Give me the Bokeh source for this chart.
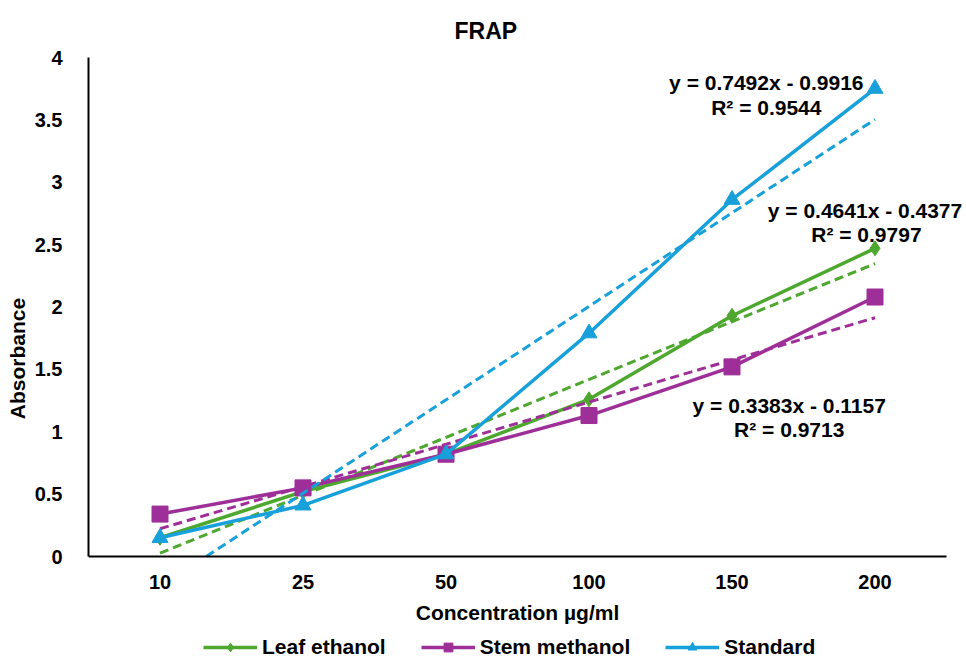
import numpy as np
from bokeh.plotting import figure
from bokeh.models import (Range1d, FixedTicker, Legend, LegendItem, Label, ColumnDataSource)
from bokeh.embed import file_html
from bokeh.resources import INLINE

# ---- data ----
categories = ["10", "25", "50", "100", "150", "200"]
leaf_ethanol = [0.15, 0.52, 0.82, 1.26, 1.93, 2.47]
stem_methanol = [0.34, 0.55, 0.82, 1.13, 1.52, 2.08]
standard = [0.15, 0.41, 0.82, 1.79, 2.86, 3.75]

series_names = ["Leaf ethanol", "Stem methanol", "Standard"]
trend_slopes = [0.4641, 0.3383, 0.7492]
trend_intercepts = [-0.4377, -0.1157, -0.9916]
trend_r2 = [0.9797, 0.9713, 0.9544]

y_ticks = [0, 0.5, 1, 1.5, 2, 2.5, 3, 3.5, 4]
y_tick_labels = ["0", "0.5", "1", "1.5", "2", "2.5", "3", "3.5", "4"]

# ---- style / layout ----
colors = ["#4EA72E", "#9E2F98", "#17A0DA"]
markers = ["diamond", "square", "triangle"]
marker_sizes = [15, 16, 16]
FONT = "Liberation Sans"

W, H = 966, 659
LEFT, TOP = 88, 57
AXIS_BOTTOM_PX = 556          # pixel row of y = 0
BAND_PX = 143                 # width of one category band
PX_PER_UNIT = (AXIS_BOTTOM_PX - TOP) / 4.0

n = len(categories)
x_idx = np.arange(1, n + 1)
x_end = 0.5 + (W - LEFT) / BAND_PX
y_start = -(H - AXIS_BOTTOM_PX) / PX_PER_UNIT

p = figure(frame_width=W - LEFT, frame_height=H - TOP, output_backend="svg",
           toolbar_location=None,
           x_range=Range1d(0.5, x_end), y_range=Range1d(y_start, 4),
           min_border_left=LEFT, min_border_right=0, min_border_top=TOP,
           min_border_bottom=0)

p.title.text = "FRAP"
p.title.align = "left"
p.title.text_font = FONT
p.title.text_font_size = "23px"
p.title.text_font_style = "bold"
p.title.text_color = "black"
p.title.offset = 366
p.title.standoff = 28

p.outline_line_color = None
p.xgrid.visible = False
p.ygrid.visible = False
p.background_fill_color = "white"
p.border_fill_color = "white"

# axes
xa = p.xaxis[0]
xa.fixed_location = 0
xa.bounds = (0.5, n + 0.5)
xa.ticker = FixedTicker(ticks=list(x_idx))
xa.major_label_overrides = {int(i): c for i, c in zip(x_idx, categories)}
xa.axis_label = "Concentration µg/ml"
ya = p.yaxis[0]
ya.bounds = (0, 4)
ya.ticker = FixedTicker(ticks=y_ticks)
ya.major_label_overrides = {t: l for t, l in zip(y_ticks, y_tick_labels)}
ya.axis_label = "Absorbance"
for ax in (xa, ya):
    ax.axis_line_color = "black"
    ax.axis_line_width = 2
    ax.major_tick_line_color = None
    ax.minor_tick_line_color = None
    ax.major_label_text_font = FONT
    ax.major_label_text_font_style = "bold"
    ax.major_label_text_font_size = "20px"
    ax.major_label_text_color = "black"
    ax.axis_label_text_font = FONT
    ax.axis_label_text_font_style = "bold"
    ax.axis_label_text_font_size = "21px"
    ax.axis_label_text_color = "black"
xa.major_label_standoff = 12
xa.axis_label_standoff = 9
ya.major_label_standoff = 20
ya.axis_label_standoff = 3

all_series = [leaf_ethanol, stem_methanol, standard]
items = []
for name, vals, col, mk, ms, m, b in zip(series_names, all_series, colors, markers,
                                          marker_sizes, trend_slopes, trend_intercepts):
    # trendline (dashed) from the displayed coefficients, clipped at y = 0
    tx = np.array([max(1.0, -b / m), float(n)])
    ty = m * tx + b
    p.line(tx, ty, line_color=col, line_width=3, line_dash="9 5")
    src = ColumnDataSource(dict(x=x_idx, y=vals))
    lr = p.line("x", "y", source=src, line_color=col, line_width=3.5)
    sr = p.scatter("x", "y", source=src, marker=mk, size=ms, fill_color=col,
                   line_color=col)
    items.append(LegendItem(label=name, renderers=[lr, sr]))

legend = Legend(items=items, orientation="horizontal", location=(115, 0),
                label_text_font=FONT, label_text_font_style="bold",
                label_text_font_size="21px", label_text_color="black",
                glyph_width=54, glyph_height=22, label_standoff=5, spacing=35,
                border_line_color=None, background_fill_alpha=0,
                padding=0, margin=0)
p.add_layout(legend, "center")

# trendline equations, placed in data coordinates
eq_pos = [  # ((x, y) of equation, (x, y) of R2)
    ((5.93, 2.77), (5.94, 2.58)),
    ((5.40, 1.21), (5.40, 1.02)),
    ((5.24, 3.80), (5.24, 3.60)),
]
for (e, r), m, b, r2 in zip(eq_pos, trend_slopes, trend_intercepts, trend_r2):
    sign = "-" if b < 0 else "+"
    txt = f"y = {m:.4f}x {sign} {abs(b):.4f}"
    for (dx, dy), t in ((e, txt), (r, f"R² = {r2:.4f}")):
        p.add_layout(Label(x=dx, y=dy, text=t,
                           text_font=FONT, text_font_style="bold",
                           text_font_size="21px", text_color="black",
                           text_align="center", text_baseline="middle"))

open("out.html", "w").write(file_html(p, INLINE))
